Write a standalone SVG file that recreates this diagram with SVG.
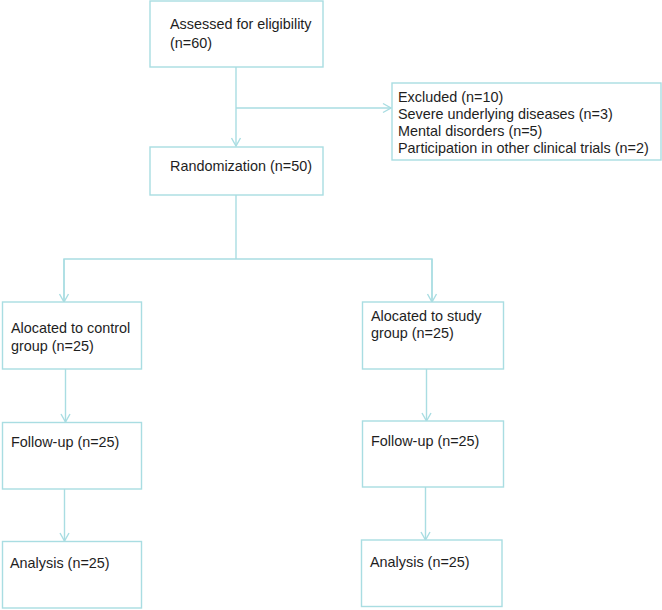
<svg xmlns="http://www.w3.org/2000/svg" width="662" height="610" viewBox="0 0 662 610">
<defs>
<style>
.box{fill:#ffffff;stroke:#a9dde2;stroke-width:1.4}
.ln{fill:none;stroke:#a9dde2;stroke-width:1.4}
text{font-family:"Liberation Sans",Arial,sans-serif;font-size:14.4px;fill:#1e1e1e}
</style>
<marker id="arr" viewBox="0 0 12 12" refX="11" refY="6" markerWidth="12" markerHeight="12" markerUnits="userSpaceOnUse" orient="auto">
<polyline points="3,1.5 11,6 3,10.5" fill="none" stroke="#a9dde2" stroke-width="1.4"/>
</marker>
</defs>
<rect width="662" height="610" fill="#ffffff"/>
<g id="connectors">
<line class="ln" x1="236" y1="67" x2="236" y2="146" marker-end="url(#arr)"/>
<line class="ln" x1="236" y1="108" x2="391" y2="108" marker-end="url(#arr)"/>
<line class="ln" x1="236" y1="195" x2="236" y2="259"/>
<polyline class="ln" points="64,301 64,259 432,259 432,301"/>
<line class="ln" x1="64" y1="259" x2="64" y2="302" marker-end="url(#arr)"/>
<line class="ln" x1="432" y1="259" x2="432" y2="302" marker-end="url(#arr)"/>
<line class="ln" x1="65.5" y1="369" x2="65.5" y2="422" marker-end="url(#arr)"/>
<line class="ln" x1="64.5" y1="489" x2="64.5" y2="541" marker-end="url(#arr)"/>
<line class="ln" x1="426.5" y1="369" x2="426.5" y2="421" marker-end="url(#arr)"/>
<line class="ln" x1="425.5" y1="487" x2="425.5" y2="540" marker-end="url(#arr)"/>
</g>
<g id="assessed">
<rect class="box" x="150" y="1" width="173" height="66"/>
<text x="170" y="29">Assessed for eligibility</text>
<text x="170" y="48">(n=60)</text>
</g>
<g id="excluded">
<rect class="box" x="392" y="83" width="269" height="77"/>
<text x="398" y="102">Excluded (n=10)</text>
<text x="398" y="119">Severe underlying diseases (n=3)</text>
<text x="398" y="136">Mental disorders (n=5)</text>
<text x="398" y="153">Participation in other clinical trials (n=2)</text>
</g>
<g id="randomization">
<rect class="box" x="150" y="147" width="173" height="48"/>
<text x="170" y="171">Randomization (n=50)</text>
</g>
<g id="control">
<rect class="box" x="2.5" y="302" width="139" height="67"/>
<text x="11" y="333">Alocated to control</text>
<text x="11" y="351">group (n=25)</text>
</g>
<g id="study">
<rect class="box" x="362.5" y="302" width="141" height="67"/>
<text x="371" y="321">Alocated to study</text>
<text x="371" y="338">group (n=25)</text>
</g>
<g id="followup-control">
<rect class="box" x="2.5" y="422.5" width="139" height="66.5"/>
<text x="11" y="447">Follow-up (n=25)</text>
</g>
<g id="followup-study">
<rect class="box" x="362.5" y="421" width="141" height="66"/>
<text x="371" y="446">Follow-up (n=25)</text>
</g>
<g id="analysis-control">
<rect class="box" x="2.5" y="541.5" width="139" height="66.5"/>
<text x="10" y="568">Analysis (n=25)</text>
</g>
<g id="analysis-study">
<rect class="box" x="361.5" y="540" width="140.5" height="66.5"/>
<text x="370" y="567">Analysis (n=25)</text>
</g>
</svg>
